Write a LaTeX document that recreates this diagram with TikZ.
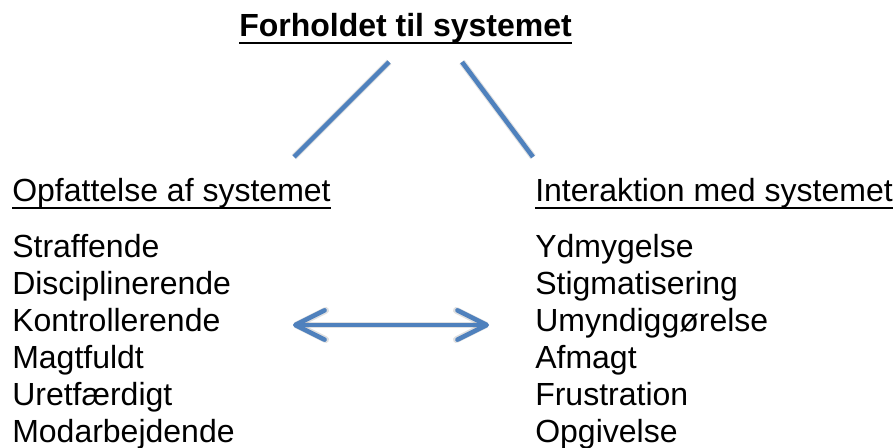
\documentclass[tikz,border=0pt]{standalone}
\usepackage{fontspec}
\setmainfont{Liberation Sans}
\usetikzlibrary{calc,arrows.meta}
\definecolor{linkblue}{HTML}{4F81BD}

\begin{document}
\begin{tikzpicture}[x=0.75pt,y=-0.75pt]
    \tikzset{
      txt/.style={inner sep=0pt, anchor=base west, font=\fontsize{24}{27.6}\selectfont},
      link/.style={draw=linkblue, line width=3.4pt},
      shadow/.style={draw=black, opacity=0.12, line width=5pt, shift={(2,4)}},
      barb/.style={{Straight Barb[length=22pt,width=22pt,round]}-{Straight Barb[length=22pt,width=22pt,round]}}
    }
    \useasboundingbox (0,0) rectangle (895,448);
    \node [txt, font=\fontsize{24}{27.6}\selectfont\bfseries] (title) at (239,37) {Forholdet til systemet};
    \node [txt] (opf) at (12,202) {Opfattelse af systemet};
    \node [txt] (int) at (535,202) {Interaktion med systemet};
    \foreach \word [count=\i] in {Straffende,Disciplinerende,Kontrollerende,Magtfuldt,Uretfærdigt,Modarbejdende}
      \node [txt] (l\i) at (12,{258+36.8*(\i-1)}) {\word};
    \foreach \word [count=\i] in {Ydmygelse,Stigmatisering,Umyndiggørelse,Afmagt,Frustration,Opgivelse}
      \node [txt] (r\i) at (535,{258+36.8*(\i-1)}) {\word};
    \draw [line width=1.5pt] ($(title.base west)+(0,6)$) -- ($(title.base east)+(0,6)$);
    \draw [line width=1pt] ($(opf.base west)+(0,6)$) -- ($(opf.base east)+(0,6)$);
    \draw [line width=1pt] ($(int.base west)+(0,6)$) -- ($(int.base east)+(0,6)$);
    \coordinate (A) at (389,62);
    \coordinate (B) at (294,157);
    \coordinate (C) at (462,62);
    \coordinate (D) at (533,157);
    \coordinate (L) at (293,325);
    \coordinate (R) at (489,325);
    \draw [shadow] (A) -- (B);
    \draw [shadow] (C) -- (D);
    \draw [shadow, barb] (L) -- (R);
    \draw [link] (A) -- (B);
    \draw [link] (C) -- (D);
    \draw [link, barb] (L) -- (R);
\end{tikzpicture}
\end{document}
